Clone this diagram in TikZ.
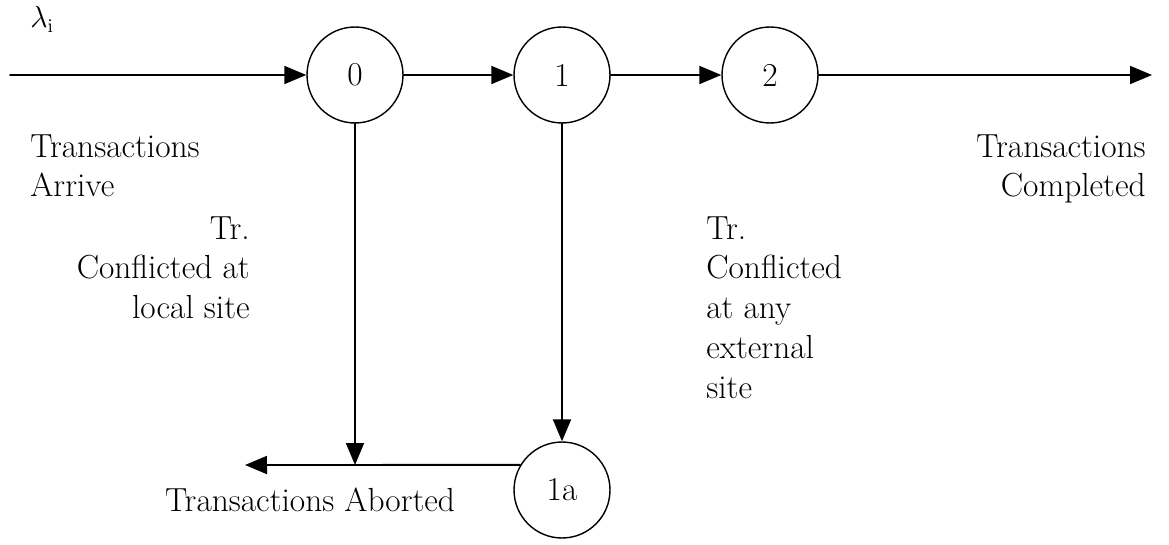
\documentclass[tikz,border=0pt]{standalone}
\usetikzlibrary{arrows.meta}

\begin{document}
\begin{tikzpicture}[x=0.02cm,y=-0.02cm,line cap=round,line join=round,
  font=\fontsize{19}{22.7}\selectfont,
  state/.style={circle,draw=black,line width=0.8pt,minimum size=1.92cm,inner sep=0pt},
  flow/.style={-{Triangle[length=0.44cm,width=0.36cm]},line width=1.1pt},
  lbl/.style={inner sep=0pt,text depth=0pt}]
\useasboundingbox (0,0) rectangle (1169,544);
% queue stations
\node[state] (n0) at (355,75) {0};
\node[state] (n1) at (562,75) {1};
\node[state] (n2) at (770,75) {2};
\node[state] (n1a) at (562,490) {1a};
% free ends
\coordinate (src) at (10,75);
\coordinate (sink) at (1152,75);
\coordinate (join) at (355,465);
\coordinate (drop) at (245,465);
% flows
\draw[flow] (src) -- (n0);
\draw[flow] (n0) -- (n1);
\draw[flow] (n1) -- (n2);
\draw[flow] (n2) -- (sink);
\draw[flow] (n0) -- (join);
\draw[flow] (n1) -- (n1a);
\draw[flow] (n1a.149) -- (drop);
% labels
\node[lbl,anchor=base west,font=\fontsize{16}{20}\selectfont] (lam) at (30,28) {$\lambda_{\mathrm{i}}$};
\node[lbl,anchor=north west,align=left] (arr) at (30,134) {Transactions\\Arrive};
\node[lbl,anchor=north east,align=right] (cmp) at (1146,134) {Transactions\\Completed};
\node[lbl,anchor=north east,align=right] (loc) at (250,216) {Tr.\\Conflicted at\\local site};
\node[lbl,anchor=north west,align=left] (ext) at (706,216) {Tr.\\Conflicted\\at any\\external\\site};
\node[lbl] (abt) at (310,500) {Transactions Aborted};
\end{tikzpicture}
\end{document}
